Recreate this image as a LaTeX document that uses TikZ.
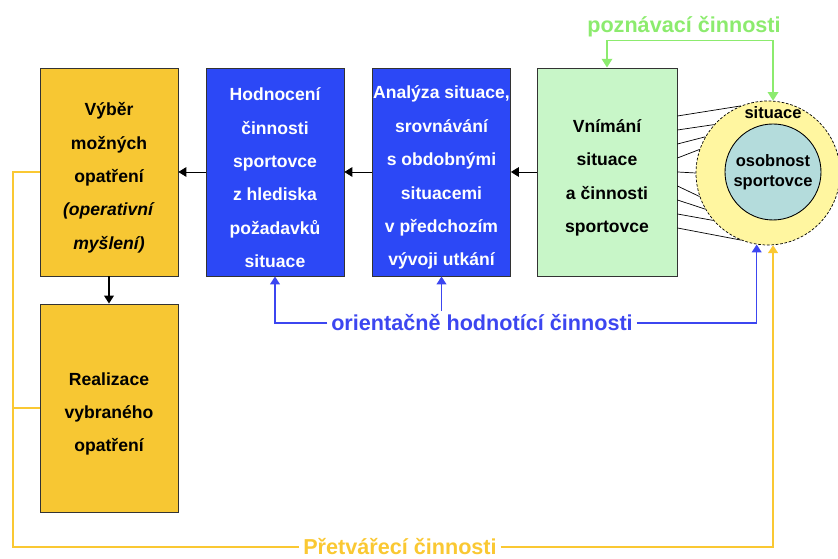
\documentclass[tikz,border=0pt]{standalone}
\usepackage{fontspec}
\setmainfont{Liberation Sans}
\usepackage{tikz}
\usetikzlibrary{arrows.meta}
\definecolor{oranzova}{RGB}{247,199,51}
\definecolor{modra}{RGB}{44,72,246}
\definecolor{zelenabox}{RGB}{200,246,200}
\definecolor{zluta}{RGB}{255,246,160}
\definecolor{tyrkys}{RGB}{180,220,220}
\definecolor{zelena}{RGB}{140,235,110}
\definecolor{modrat}{RGB}{60,70,240}
\definecolor{zlutat}{RGB}{250,200,50}
\newcommand{\odsaz}{\rule{0pt}{14pt}}

\begin{document}
\begin{tikzpicture}[
  box/.style={draw=black!80, line width=0.5pt, minimum width=2.76cm, minimum height=4.16cm,
    inner sep=0pt, align=center, font=\bfseries\fontsize{10}{19}\selectfont},
  tip/.style={-{Triangle[width=5.5pt,length=4.5pt]}},
  lbl/.style={inner sep=2pt, font=\bfseries\fontsize{12.3}{14}\selectfont},
  small/.style={align=center, font=\bfseries\fontsize{9.4}{11.3}\selectfont}
]
  \useasboundingbox (0,0) rectangle (16.76,11.18);
  \node[box, fill=oranzova] (vyber) at (2.18,7.74) {\odsaz Výběr\\možných\\opatření\\\textit{(operativní}\\\textit{myšlení)}};
  \node[box, fill=oranzova] (real) at (2.18,3.02) {\odsaz Realizace\\vybraného\\opatření};
  \node[box, fill=modra, text=white] (hodn) at (5.5,7.74) {\odsaz Hodnocení\\činnosti\\sportovce\\z hlediska\\požadavků\\situace};
  \node[box, fill=modra, text=white] (anal) at (8.83,7.74) {\odsaz Analýza situace,\\srovnávání\\s obdobnými\\situacemi\\v předchozím\\vývoji utkání};
  \node[box, fill=zelenabox, minimum width=2.8cm] (vnim) at (12.14,7.74) {\odsaz Vnímání\\situace\\a činnosti\\sportovce};
  \node[circle, draw, line width=0.4pt, dash pattern=on 1.5pt off 1pt, fill=zluta,
    minimum size=2.88cm, inner sep=0pt] (sit) at (15.36,7.72) {};
  \node[circle, draw, line width=0.5pt, fill=tyrkys, minimum size=1.92cm, inner sep=0pt, small] (osob) at (15.46,7.74) {osobnost\\sportovce};
  \node[small] (sitlbl) at (15.46,8.92) {situace};

  \draw[tip] (vnim.west) -- (anal.east);
  \draw[tip] (anal.west) -- (hodn.east);
  \draw[tip] (hodn.west) -- (vyber.east);
  \draw[tip, line width=0.8pt] (vyber.south) -- (real.north);

  \foreach \dy/\ang in {1.12/112, 0.84/138, 0.56/150, 0.28/161, 0/180, -0.28/199, -0.56/210, -0.84/221, -1.12/248}
    \draw[line width=0.4pt] ([yshift=\dy cm]vnim.east) -- (sit.\ang);

  \node[lbl, text=zelena] (pozn) at (13.68,10.64) {poznávací činnosti};
  \draw[zelena, line width=1pt, {Triangle[width=6pt,length=5pt]}-{Triangle[width=6pt,length=5pt]}]
    (vnim.north) -- ++(0,0.54) -| (sit.86);

  \node[lbl, text=modrat] (orient) at (9.64,4.72) {orientačně hodnotící činnosti};
  \draw[modrat, line width=0.9pt, tip] (orient.west) -| (hodn.south);
  \draw[modrat, line width=0.9pt, tip] (anal.south |- orient.north) -- (anal.south);
  \draw[modrat, line width=0.9pt, tip] (orient.east) -| (sit.261);

  \node[lbl, text=zlutat] (pretv) at (8.0,0.24) {Přetvářecí činnosti};
  \draw[zlutat, line width=1.1pt] (pretv.west) -| ([xshift=-0.54cm]vyber.west) -- (vyber.west);
  \draw[zlutat, line width=1.1pt] (real.west) -- ++(-0.54,0);
  \draw[zlutat, line width=1.1pt, tip] (pretv.east) -| (sit.274);
\end{tikzpicture}
\end{document}
